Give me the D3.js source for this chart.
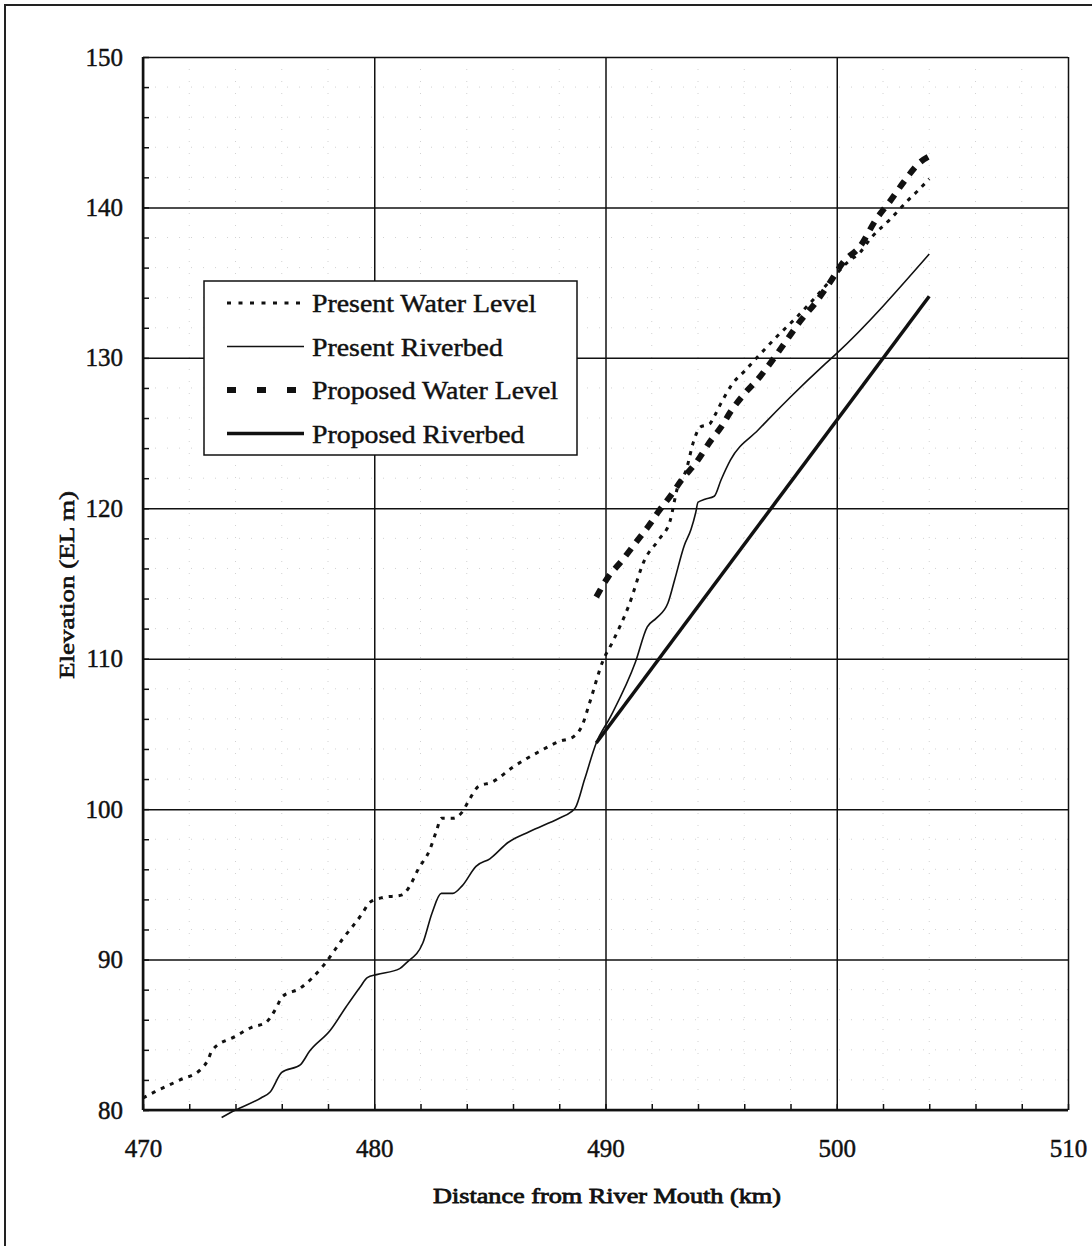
<!DOCTYPE html>
<html>
<head>
<meta charset="utf-8">
<script src="https://cdn.jsdelivr.net/npm/d3@7"></script>
<style>
  body { margin: 0; background: #fff; }
  text { font-family: "Liberation Serif", "Times New Roman", serif; fill: #111; stroke: #111; stroke-width: 0.45px; }
</style>
</head>
<body>
<svg class="chart"></svg>
<script>
// chart values (km, EL m)
let presentWaterKm = [470, 470.5, 471.6, 472.5, 472.8, 473.0, 474.0, 474.7, 475.3, 475.8, 476.0, 476.8, 477.8, 478.6, 479.5, 479.8, 480.3, 481.2, 481.5, 481.9, 482.4, 482.7, 482.9, 483.4, 483.8, 484.1, 484.5, 485.1, 486.0, 487.1, 488.0, 488.6, 489.0, 489.3, 489.9, 490.3, 491.0, 491.7, 492.3, 492.8, 493.1, 493.5, 493.8, 494.1, 494.5, 494.7, 495.0, 495.5, 496.0, 496.6, 497.4, 498.2, 499.0, 499.7, 500.5, 501.0, 501.5, 502.3, 503.1, 503.5, 504.0];
let presentWaterEl = [80.8, 81.2, 82.0, 82.7, 83.3, 84.0, 84.9, 85.5, 85.8, 86.9, 87.5, 88.1, 89.6, 91.3, 93.1, 93.8, 94.1, 94.3, 94.8, 96.0, 97.3, 98.6, 99.4, 99.4, 99.8, 100.6, 101.5, 101.8, 102.8, 103.8, 104.5, 104.8, 105.6, 107.0, 109.9, 111.1, 113.5, 116.6, 117.9, 119.2, 121.3, 122.6, 124.4, 125.4, 125.6, 126.1, 127.0, 128.3, 129.1, 130.1, 131.4, 132.6, 133.9, 135.1, 136.4, 137.0, 138.0, 139.2, 140.5, 141.1, 141.9];

let presentBedKm = [473.4, 474.0, 475.1, 475.5, 476.0, 476.8, 477.2, 478.1, 478.8, 479.4, 479.7, 480.1, 481.1, 481.4, 482.1, 482.5, 482.9, 483.4, 483.8, 484.4, 485.0, 485.8, 486.7, 488.0, 488.5, 488.7, 489.1, 489.6, 490.2, 491.3, 491.8, 492.2, 492.7, 493.0, 493.4, 493.7, 493.9, 494.0, 494.3, 494.7, 495.0, 495.4, 496.6, 498.0, 499.5, 500.0, 504.0];
let presentBedEl = [79.5, 80.0, 80.8, 81.2, 82.5, 83.0, 83.9, 85.3, 86.9, 88.2, 88.8, 89.0, 89.4, 89.8, 91.1, 93.1, 94.4, 94.4, 94.9, 96.2, 96.7, 97.8, 98.5, 99.4, 99.8, 100.1, 102.0, 104.4, 106.1, 109.8, 112.1, 112.7, 113.7, 115.3, 117.5, 118.6, 119.7, 120.4, 120.6, 120.8, 121.9, 123.2, 125.2, 127.4, 129.6, 130.3, 136.9];

let proposedWaterKm = [489.6, 490.1, 490.7, 491.3, 491.9, 492.3, 492.8, 493.3, 493.9, 494.6, 495.0, 495.4, 496.0, 496.6, 497.2, 497.8, 498.4, 499.1, 499.7, 500.3, 501.0, 501.7, 502.3, 502.9, 503.6, 504.0];
let proposedWaterEl = [114.1, 115.4, 116.5, 117.7, 118.9, 119.8, 120.8, 121.9, 123.0, 124.6, 125.4, 126.4, 127.6, 128.6, 129.8, 131.1, 132.4, 133.7, 135.0, 136.4, 137.4, 139.2, 140.4, 141.7, 143.0, 143.4];

let proposedBedKm = [489.6, 504.0];
let proposedBedEl = [104.4, 134.1];

let xTicks = [470, 480, 490, 500, 510];
let yTicks = [80, 90, 100, 110, 120, 130, 140, 150];
let seriesNames = ['Present Water Level', 'Present Riverbed', 'Proposed Water Level', 'Proposed Riverbed'];

let svg_width = 1092, svg_height = 1250;
let plotLeft = 143, plotTop = 57, plotRight = 1068, plotBottom = 1110;

let svg = d3.select('.chart')
  .attr('width', svg_width)
  .attr('height', svg_height);

let scaleX = d3.scaleLinear().domain([470, 510]).range([plotLeft, plotRight]);
let scaleY = d3.scaleLinear().domain([80, 150]).range([plotBottom, plotTop]);

// outer page frame
svg.append('path')
  .attr('d', 'M5,1246 L5,5 L1092,5')
  .attr('fill', 'none').attr('stroke', '#222').attr('stroke-width', 2);

// faint dotted minor grid
let minorX = d3.range(472, 510, 2).filter(d => d % 10 != 0);
let minorY = d3.range(82, 150, 2).filter(d => d % 10 != 0);
svg.append('g').selectAll('line').data(minorX).enter().append('line')
  .attr('x1', d => scaleX(d)).attr('x2', d => scaleX(d))
  .attr('y1', plotTop).attr('y2', plotBottom)
  .attr('stroke', '#d2d2d2').attr('stroke-width', 1).attr('stroke-dasharray', '1,11');
svg.append('g').selectAll('line').data(minorY).enter().append('line')
  .attr('y1', d => scaleY(d)).attr('y2', d => scaleY(d))
  .attr('x1', plotLeft).attr('x2', plotRight)
  .attr('stroke', '#d2d2d2').attr('stroke-width', 1).attr('stroke-dasharray', '1,11');

// major grid
let axisX = d3.axisBottom(scaleX).tickValues(xTicks).tickSize(-(plotBottom - plotTop)).tickFormat(d => d).tickPadding(29);
let axisY = d3.axisLeft(scaleY).tickValues(yTicks).tickSize(-(plotRight - plotLeft)).tickFormat(d => d).tickPadding(20);

function styleAxis(g) {
  g.select('.domain').remove();
  g.selectAll('.tick line').attr('stroke', '#111').attr('stroke-width', 1.5);
  g.selectAll('.tick text').attr('font-size', '25px').attr('fill', '#111')
    .style('font-family', '"Liberation Serif", serif');
}

svg.append('g')
  .attr('transform', 'translate(0,' + plotBottom + ')')
  .call(axisX).call(styleAxis);

svg.append('g')
  .attr('transform', 'translate(' + plotLeft + ',0)')
  .call(axisY).call(styleAxis);

// minor inward ticks
let minorAxisX = d3.axisTop(scaleX).tickValues(d3.range(470, 511, 2)).tickSize(6).tickFormat('');
let minorAxisY = d3.axisRight(scaleY).tickValues(d3.range(80, 151, 2)).tickSize(6).tickFormat('');
svg.append('g').attr('transform', 'translate(0,' + plotBottom + ')').call(minorAxisX)
  .call(g => g.select('.domain').remove())
  .selectAll('line').attr('stroke', '#111').attr('stroke-width', 1.5);
svg.append('g').attr('transform', 'translate(' + plotLeft + ',0)').call(minorAxisY)
  .call(g => g.select('.domain').remove())
  .selectAll('line').attr('stroke', '#111').attr('stroke-width', 1.5);

// axes lines
svg.append('line').attr('x1', plotLeft).attr('x2', plotRight).attr('y1', plotBottom).attr('y2', plotBottom)
  .attr('stroke', '#111').attr('stroke-width', 2.5);
svg.append('line').attr('x1', plotLeft).attr('x2', plotLeft).attr('y1', plotTop).attr('y2', plotBottom)
  .attr('stroke', '#111').attr('stroke-width', 2.5);

// series
let line = d3.line().x(d => scaleX(d[0])).y(d => scaleY(d[1])).curve(d3.curveMonotoneX);

let series = [
  { pts: d3.zip(presentWaterKm, presentWaterEl), width: 3, dash: '4,6', legendDash: '4,7.5' },
  { pts: d3.zip(presentBedKm, presentBedEl), width: 1.6, dash: null, legendDash: null },
  { pts: d3.zip(proposedWaterKm, proposedWaterEl), width: 6, dash: '9,8', legendDash: '9,21' },
  { pts: d3.zip(proposedBedKm, proposedBedEl), width: 3.5, dash: null, legendDash: null }
];

series.forEach(s => {
  svg.append('path')
    .datum(s.pts)
    .attr('d', line)
    .attr('fill', 'none')
    .attr('stroke', '#111')
    .attr('stroke-width', s.width)
    .attr('stroke-dasharray', s.dash);
});

// legend
let legend = svg.append('g').attr('transform', 'translate(204,281)');
legend.append('rect')
  .attr('width', 373).attr('height', 174)
  .attr('fill', '#fff').attr('stroke', '#111').attr('stroke-width', 1.5);

seriesNames.forEach((name, i) => {
  let yy = 22 + i * 43.5;
  legend.append('line')
    .attr('x1', 23).attr('x2', 100).attr('y1', yy).attr('y2', yy)
    .attr('stroke', '#111')
    .attr('stroke-width', series[i].width)
    .attr('stroke-dasharray', series[i].legendDash);
  let t = legend.append('text')
    .attr('x', 108).attr('y', yy + 9)
    .attr('font-size', '26px')
    .text(name);
  let w = t.node().getComputedTextLength();
  t.attr('textLength', w * 1.07).attr('lengthAdjust', 'spacingAndGlyphs');
});

// axis titles
svg.append('text')
  .attr('x', 607).attr('y', 1203)
  .attr('text-anchor', 'middle')
  .attr('font-size', '22px')
  .attr('textLength', 348).attr('lengthAdjust', 'spacingAndGlyphs')
  .style('stroke-width', '0.8px')
  .text('Distance from River Mouth (km)');

svg.append('text')
  .attr('transform', 'translate(74,585) rotate(-90)')
  .attr('text-anchor', 'middle')
  .attr('font-size', '21px')
  .attr('textLength', 188).attr('lengthAdjust', 'spacingAndGlyphs')
  .style('stroke-width', '0.6px')
  .text('Elevation (EL m)');
</script>
</body>
</html>
